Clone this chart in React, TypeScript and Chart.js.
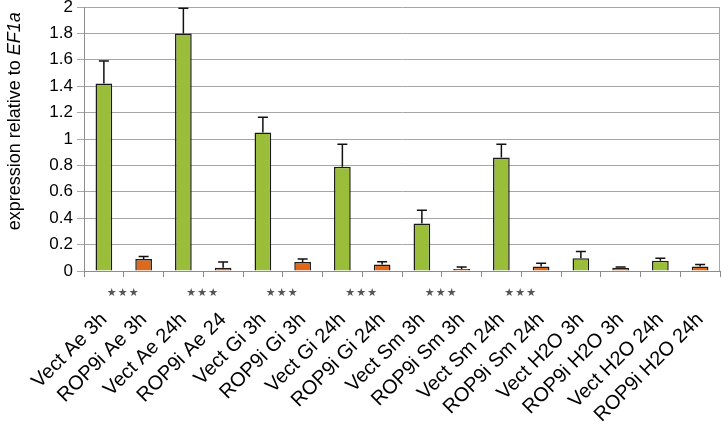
import React, { useEffect, useRef } from 'react';
import { Chart, registerables } from 'chart.js';

Chart.register(...registerables);

const categories = [
  'Vect Ae 3h', 'ROP9i Ae 3h', 'Vect Ae 24h', 'ROP9i Ae 24',
  'Vect Gi 3h', 'ROP9i Gi 3h', 'Vect Gi 24h', 'ROP9i Gi 24h',
  'Vect Sm 3h', 'ROP9i Sm 3h', 'Vect Sm 24h', 'ROP9i Sm 24h',
  'Vect H2O 3h', 'ROP9i H2O 3h', 'Vect H2O 24h', 'ROP9i H2O 24h',
];
const expression = [1.42, 0.09, 1.80, 0.025, 1.05, 0.068, 0.79, 0.05, 0.36, 0.015, 0.86, 0.035, 0.097, 0.025, 0.078, 0.034];
const errorUp = [0.17, 0.02, 0.19, 0.043, 0.115, 0.022, 0.17, 0.02, 0.10, 0.016, 0.10, 0.023, 0.05, 0.006, 0.018, 0.016];
// significance per Vect/ROP9i pair
const pairSignificance = ['***', '***', '***', '***', '***', '***', '', ''];
const yTickLabels = ['0', '0.2', '0.4', '0.6', '0.8', '1', '1.2', '1.4', '1.6', '1.8', '2'];
const yTitleMain = 'expression relative to ';
const yTitleItalic = 'EF1a';

const GREEN = '#9bbe3a';
const ORANGE = '#dd6a1c';
const FONT = '"Liberation Sans", Arial, sans-serif';

const overlayPlugin = {
  id: 'overlay',
  afterDatasetsDraw(chart: any) {
    const ctx = chart.ctx;
    const xs = chart.scales.x;
    const ys = chart.scales.y;
    const meta = chart.getDatasetMeta(0);
    const area = chart.chartArea;
    ctx.save();
    // right border
    ctx.strokeStyle = '#a6a6a6';
    ctx.lineWidth = 1;
    ctx.beginPath();
    ctx.moveTo(Math.round(area.right) - 0.5, area.top);
    ctx.lineTo(Math.round(area.right) - 0.5, area.bottom);
    ctx.stroke();
    // error bars
    ctx.strokeStyle = '#111';
    ctx.lineWidth = 1.5;
    expression.forEach((v, i) => {
      const x = meta.data[i].x;
      const y0 = ys.getPixelForValue(v);
      const y1 = ys.getPixelForValue(v + errorUp[i]);
      ctx.beginPath();
      ctx.moveTo(x, y0);
      ctx.lineTo(x, y1);
      ctx.moveTo(x - 5, y1);
      ctx.lineTo(x + 5, y1);
      ctx.stroke();
    });
    // significance stars
    ctx.fillStyle = '#555';
    ctx.font = '11px "DejaVu Sans", sans-serif';
    ctx.textAlign = 'center';
    ctx.textBaseline = 'middle';
    pairSignificance.forEach((s, k) => {
      if (!s) return;
      const xc = (xs.getPixelForValue(2 * k) + xs.getPixelForValue(2 * k + 1)) / 2 - 1;
      const yc = area.bottom + 22;
      const n = s.length;
      for (let j = 0; j < n; j++) {
        ctx.fillText('\u2605', xc + (j - (n - 1) / 2) * 11, yc);
      }
    });
    // y axis title with italic part
    ctx.fillStyle = '#000';
    ctx.textAlign = 'left';
    ctx.textBaseline = 'alphabetic';
    const normalFont = '18px ' + FONT;
    const italicFont = 'italic 18px ' + FONT;
    ctx.font = normalFont;
    const w1 = ctx.measureText(yTitleMain).width;
    ctx.font = italicFont;
    const w2 = ctx.measureText(yTitleItalic).width;
    const cy = area.top + (area.bottom - area.top) * 0.433;
    ctx.translate(20, cy);
    ctx.rotate(-Math.PI / 2);
    const start = -(w1 + w2) / 2;
    ctx.font = normalFont;
    ctx.fillText(yTitleMain, start, 0);
    ctx.font = italicFont;
    ctx.fillText(yTitleItalic, start + w1, 0);
    ctx.restore();
  },
};

export default function App() {
  const ref = useRef<HTMLCanvasElement | null>(null);
  useEffect(() => {
    if (!ref.current) return;
    const chart = new Chart(ref.current, {
      type: 'bar',
      data: {
        labels: categories,
        datasets: [
          {
            data: expression,
            backgroundColor: categories.map((c) => (c.startsWith('Vect') ? GREEN : ORANGE)),
            borderColor: '#1a1a1a',
            borderWidth: 1.5,
            barPercentage: 0.42,
            categoryPercentage: 1,
          },
        ],
      },
      options: {
        animation: false,
        responsive: false,
        devicePixelRatio: 1,
        layout: { padding: { top: 7, right: 2, left: 0, bottom: 0 } },
        plugins: {
          legend: { display: false },
          tooltip: { enabled: false },
        },
        scales: {
          x: {
            grid: { drawOnChartArea: false, tickLength: 6, color: '#8c8c8c', offset: true },
            border: { color: '#8c8c8c' },
            ticks: {
              autoSkip: false,
              minRotation: 45,
              maxRotation: 45,
              padding: 31,
              color: '#000',
              font: { family: FONT, size: 20 },
            },
            afterFit: (s: any) => {
              s.height = 162;
              s.paddingLeft = 0;
              s.paddingRight = 0;
            },
          },
          y: {
            min: 0,
            max: 2,
            ticks: {
              stepSize: 0.2,
              padding: 4,
              color: '#000',
              font: { family: FONT, size: 17 },
              callback: (_v: any, i: number) => yTickLabels[i],
            },
            grid: { color: '#a6a6a6', tickLength: 7 },
            border: { color: '#8c8c8c' },
            afterFit: (s: any) => {
              s.width = 84;
              s.paddingTop = 0;
              s.paddingBottom = 0;
            },
          },
        },
      },
      plugins: [overlayPlugin],
    });
    return () => chart.destroy();
  }, []);
  return (
    <div style={{ position: 'absolute', left: 0, top: 0, width: 722, height: 433, background: '#fff' }}>
      <canvas ref={ref} width={722} height={433} />
    </div>
  );
}
